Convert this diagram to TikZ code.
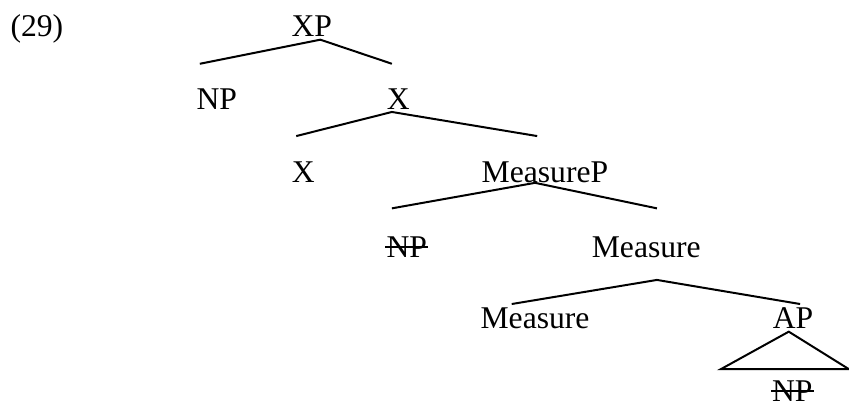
\documentclass[tikz,border=0pt]{standalone}
\usepackage{fontspec}
\setmainfont{Liberation Serif}
\usetikzlibrary{positioning}

\newsavebox\strkbox
\newcommand{\struckout}[1]{\sbox\strkbox{#1}\rlap{\hspace{-0.5pt}\rule[3.6pt]{\dimexpr\wd\strkbox+1pt\relax}{0.8pt}}\usebox\strkbox}

\begin{document}
\begin{tikzpicture}[
    cat/.style={anchor=base, inner sep=0pt, font=\fontsize{12.7}{15}\selectfont},
    branch/.style={line width=0.8pt}
]
    \useasboundingbox (0, 0) rectangle (11.98, -5.715);

    %% Example number
    \node[cat] (num) at (0.52, -0.52) {(29)};

    % Nodes
    \node[cat] (xp) at (4.40, -0.51) {XP};
    \node[cat] (np) at (3.06, -1.54) {NP};
    \node[cat] (xbar) at (5.62, -1.54) {X};
    \node[cat] (x) at (4.28, -2.57) {X};
    \node[cat] (mp) at (7.69, -2.58) {MeasureP};
    \node[cat] (npcopy) at (5.74, -3.63) {\struckout{NP}};
    \node[cat] (mbar) at (9.12, -3.63) {Measure};
    \node[cat] (m) at (7.55, -4.64) {Measure};
    \node[cat] (ap) at (11.19, -4.64) {AP};
    \node[cat] (npgap) at (11.18, -5.66) {\struckout{NP}};

    % Branch points
    \coordinate (xp-top) at (4.52, -0.56);
    \coordinate (xp-l) at (2.82, -0.90);
    \coordinate (xp-r) at (5.53, -0.90);
    \coordinate (xbar-top) at (5.53, -1.58);
    \coordinate (xbar-l) at (4.18, -1.92);
    \coordinate (xbar-r) at (7.58, -1.92);
    \coordinate (mp-top) at (7.55, -2.58);
    \coordinate (mp-l) at (5.53, -2.94);
    \coordinate (mp-r) at (9.27, -2.94);
    \coordinate (mbar-top) at (9.27, -3.95);
    \coordinate (mbar-l) at (7.22, -4.29);
    \coordinate (mbar-r) at (11.29, -4.29);
    \coordinate (ap-top) at (11.13, -4.68);
    \coordinate (ap-l) at (10.17, -5.21);
    \coordinate (ap-r) at (11.98, -5.21);

    % Branches
    \draw[branch] (xp-l) -- (xp-top) -- (xp-r);
    \draw[branch] (xbar-l) -- (xbar-top) -- (xbar-r);
    \draw[branch] (mp-l) -- (mp-top) -- (mp-r);
    \draw[branch] (mbar-l) -- (mbar-top) -- (mbar-r);
    \draw[branch] (ap-top) -- (ap-l) -- (ap-r) -- cycle;
\end{tikzpicture}
\end{document}
